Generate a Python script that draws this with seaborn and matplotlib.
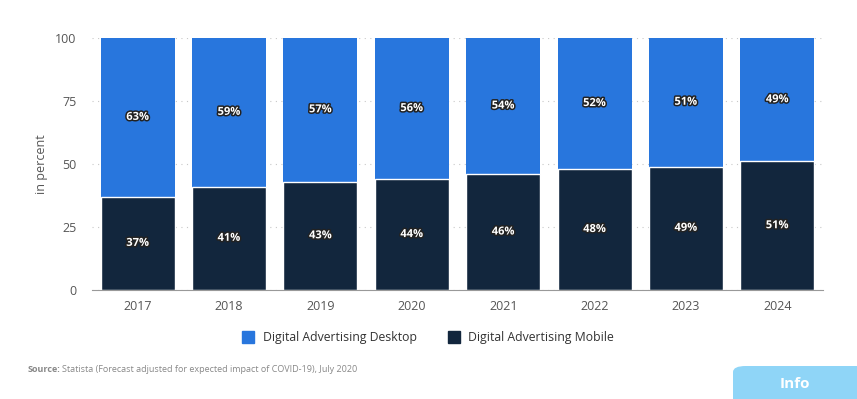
import matplotlib
matplotlib.use("Agg")
import matplotlib.pyplot as plt
import matplotlib.patheffects as pe
from matplotlib.patches import FancyBboxPatch
import pandas as pd
import seaborn as sns

years = ["2017", "2018", "2019", "2020", "2021", "2022", "2023", "2024"]
desktop = [63, 59, 57, 56, 54, 52, 51, 49]
mobile = [37, 41, 43, 44, 46, 48, 49, 51]
yticks = [0, 25, 50, 75, 100]

DESKTOP_COLOR = "#2876dd"
MOBILE_COLOR = "#12263d"

sns.set_style("white")
plt.rcParams["font.family"] = ["Open Sans", "DejaVu Sans"]

df = pd.DataFrame({"year": years, "desktop": desktop, "mobile": mobile})
df["total"] = df["desktop"] + df["mobile"]

fig = plt.figure(figsize=(8.57, 3.99), dpi=100)
ax = fig.add_axes([92 / 857, 1 - 290 / 399, 731 / 857, 252 / 399])

sns.barplot(data=df, x="year", y="total", color=DESKTOP_COLOR, width=0.81,
            saturation=1, linewidth=0, ax=ax, zorder=2)
sns.barplot(data=df, x="year", y="mobile", color=MOBILE_COLOR, width=0.81,
            saturation=1, edgecolor="white", linewidth=1.0, ax=ax, zorder=3)

ax.set_ylim(0, 100)
ax.set_yticks(yticks)
ax.set_xlim(-0.5, len(years) - 0.5)
ax.yaxis.grid(True, linestyle=(0, (1, 4)), color="#c8c8c8", linewidth=0.8, zorder=0)
ax.xaxis.grid(False)
for side in ["top", "right", "left"]:
    ax.spines[side].set_visible(False)
ax.spines["bottom"].set_color("#999999")
ax.spines["bottom"].set_zorder(4)
ax.tick_params(axis="both", length=0, labelsize=9, labelcolor="#555555")
ax.tick_params(axis="y", pad=11)
ax.tick_params(axis="x", pad=7)
ax.set_xlabel("")
ax.set_ylabel("in percent", fontsize=9, color="#555555", labelpad=5)

outline = [pe.withStroke(linewidth=2.2, foreground="#222222")]
for i in range(len(years)):
    ax.text(i, mobile[i] / 2, f"{mobile[i]}%", ha="center", va="center",
            color="white", fontsize=8, fontweight="bold", path_effects=outline, zorder=5)
    ax.text(i, mobile[i] + desktop[i] / 2, f"{desktop[i]}%", ha="center", va="center",
            color="white", fontsize=8, fontweight="bold", path_effects=outline, zorder=5)

# legend
handles = [plt.Line2D([], [], marker="s", linestyle="", markersize=9, color=c)
           for c in (DESKTOP_COLOR, MOBILE_COLOR)]
fig.legend(handles, ["Digital Advertising Desktop", "Digital Advertising Mobile"],
           loc="center", bbox_to_anchor=(425 / 857, 1 - 338 / 399), ncol=2,
           frameon=False, fontsize=8.8, handletextpad=0.2, columnspacing=2.0,
           labelcolor="#333333")

src = fig.text(28 / 857, 1 - 370 / 399, "Source:", fontsize=6.5, color="#888888",
               fontweight="bold", va="center")
fig.canvas.draw()
bb = src.get_window_extent()
fig.text((bb.x1 + 1) / 857, 1 - 370 / 399,
         "Statista (Forecast adjusted for expected impact of COVID-19), July 2020",
         fontsize=6.5, color="#888888", va="center")

box = FancyBboxPatch((733 / 857, -0.05), 0.2, 1 - 366 / 399 + 0.05,
                     boxstyle="round,pad=0,rounding_size=0.015",
                     transform=fig.transFigure, facecolor="#8fd5f7",
                     edgecolor="none")
fig.patches.append(box)
fig.text(795 / 857, 1 - 384 / 399, "Info", fontsize=11, color="white",
         fontweight="bold", ha="center", va="center")

fig.savefig("out.png", dpi=100)
